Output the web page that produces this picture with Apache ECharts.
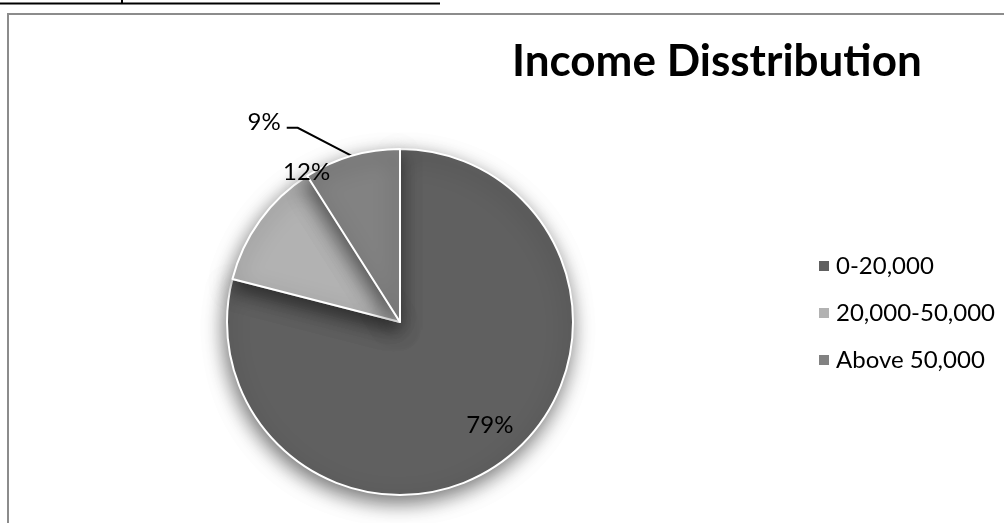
<!DOCTYPE html>
<html>
<head>
<meta charset="utf-8">
<title>Income Distribution</title>
<script src="https://cdn.jsdelivr.net/npm/echarts@6/dist/echarts.min.js"></script>
<style>
  html, body { margin: 0; padding: 0; background: #ffffff; }
  #chart { width: 1004px; height: 523px; }
</style>
</head>
<body>
<div id="chart"></div>
<script>
// Income brackets and their share of respondents (%)
const categories = ['0-20,000', '20,000-50,000', 'Above 50,000'];
const shares = [79, 12, 9];
const sliceColors = ['#606060', '#b2b2b2', '#828282'];
const titleText = 'Income Disstribution';

// Label nudges (px) relative to the default inside spots
const labelShift = [[35, 33], [-21, -97], [0, 0]];

const chart = echarts.init(document.getElementById('chart'), null, { renderer: 'canvas' });

const pieData = categories.map((name, i) => ({
  name: name,
  value: shares[i],
  itemStyle: { color: sliceColors[i] },
  label: { position: i === 2 ? 'outside' : 'inside' },
  labelLine: { show: i === 2 }
}));

chart.setOption({
  animation: false,
  backgroundColor: '#ffffff',
  title: {
    text: titleText,
    left: 507,
    top: 35,
    textStyle: { fontFamily: 'Lato', fontWeight: 'bold', fontSize: 44, color: '#000000' }
  },
  legend: {
    orient: 'vertical',
    left: 812,
    top: 249,
    icon: 'rect',
    itemWidth: 12,
    itemHeight: 12,
    itemGap: 23,
    selectedMode: false,
    data: categories,
    textStyle: {
      fontFamily: 'Lato', fontSize: 24, color: '#000000',
      lineHeight: 24, padding: [0, 0, 0, 1]
    }
  },
  graphic: [
    // table rule above the chart
    { type: 'line', shape: { x1: 0, y1: 3.5, x2: 440, y2: 3.5 }, style: { stroke: '#000', lineWidth: 2 } },
    { type: 'line', shape: { x1: 122, y1: 0, x2: 122, y2: 4 }, style: { stroke: '#000', lineWidth: 2 } },
    // chart frame
    { type: 'line', shape: { x1: 7, y1: 14, x2: 1004, y2: 14 }, style: { stroke: '#8c8c8c', lineWidth: 2 } },
    { type: 'line', shape: { x1: 8, y1: 13, x2: 8, y2: 523 }, style: { stroke: '#8c8c8c', lineWidth: 2 } }
  ],
  series: [{
    type: 'pie',
    center: [400, 322],
    radius: [0, 173],
    startAngle: 90,
    clockwise: true,
    avoidLabelOverlap: false,
    itemStyle: {
      borderColor: '#ffffff',
      borderWidth: 2,
      shadowBlur: 20,
      shadowOffsetX: -2,
      shadowOffsetY: 7,
      shadowColor: 'rgba(0,0,0,0.55)'
    },
    label: {
      show: true,
      formatter: '{d}%',
      fontFamily: 'Lato',
      fontSize: 24,
      color: '#000000'
    },
    labelLine: {
      show: true,
      length: 20,
      length2: 11,
      lineStyle: { color: '#000000', width: 2 }
    },
    labelLayout: function (params) {
      const i = params.dataIndex;
      if (i === 2 && params.labelLinePoints) {
        const p0 = params.labelLinePoints[0];
        const p1 = [p0[0] - 54, p0[1] - 28];
        const p2 = [p1[0] - 11, p1[1]];
        return {
          x: p2[0] - 6,
          y: p2[1] - 6,
          align: 'right',
          verticalAlign: 'middle',
          labelLinePoints: [p0, p1, p2]
        };
      }
      return { dx: labelShift[i][0], dy: labelShift[i][1] };
    },
    data: pieData
  }]
});
</script>
</body>
</html>
